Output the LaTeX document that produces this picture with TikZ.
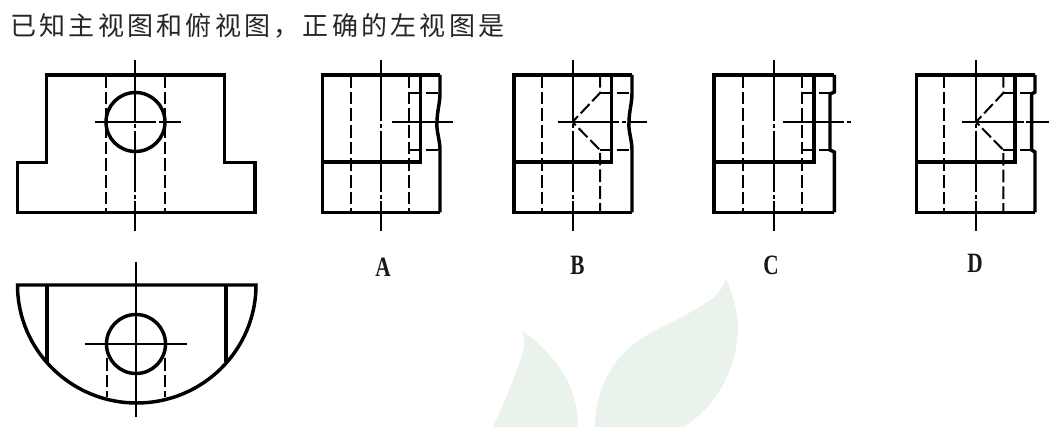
\documentclass[tikz,border=0pt]{standalone}
\usepackage{fontspec}
\setmainfont{Liberation Serif}
\newfontfamily\cjk[LetterSpace=12.5]{Noto Sans CJK SC}
\definecolor{leaf}{HTML}{E9F3EC}
\tikzset{
  thick line/.style={line width=2.6pt,line join=miter,black},
  thin solid/.style={line width=1.5pt,black},
  hidden line/.style={line width=1.5pt,black,dash pattern=on 9.5pt off 3pt},
  axis line/.style={line width=1.5pt,black,dash pattern=on 46pt off 2pt on 3pt off 2pt},
  choice/.style={font=\bfseries\fontsize{21}{21}\selectfont,xscale=.76,text=black!90,inner sep=0pt}
}
% xl xr xi xd1 xd2 xc xh1 xh2
\newcommand{\frameview}[8]{%
  \draw[thick line] (#2,212.5)--(#1,212.5)--(#1,75)--(#2,75);
  \draw[thick line] (#1,162)--(#3,162)--(#3,75);
  \draw[axis line] (#6,60)--(#6,231);
  \draw[axis line] (#7,122)--(#8,122);
  \draw[hidden line] (#4,75)--(#4,212.5);
}
\begin{document}
\begin{tikzpicture}[x=.75pt,y=-.75pt]
\useasboundingbox (0,0) rectangle (1057,427);
% watermark
\fill[leaf] (726,278) .. controls (722,290) and (716,297) .. (706,303)
  .. controls (690,313) and (670,323) .. (653,332)
  .. controls (625,346) and (596,375) .. (595,427) -- (683,427)
  .. controls (715,408) and (738,370) .. (738,325)
  .. controls (737,308) and (731,290) .. (726,278) -- cycle;
\fill[leaf] (522.5,331) .. controls (525,338) and (525,346) .. (522,355)
  .. controls (515,378) and (503,405) .. (493,427) -- (578,427)
  .. controls (578,395) and (565,362) .. (522.5,331) -- cycle;
% title
\node[anchor=west,inner sep=0pt,font=\cjk\fontsize{19.5}{19.5}\selectfont,text=black!85] (title) at (10,26) {已知主视图和俯视图，正确的左视图是};
% front view
\draw[thick line] (46.5,75)--(224.5,75)--(224.5,162.5)--(255,162.5)--(255,212.5)--(17.5,212.5)--(17.5,162.5)--(46.5,162.5)--cycle;
\draw[hidden line] (106,75)--(106,212.5);
\draw[hidden line] (164.5,75)--(164.5,212.5);
\draw[axis line] (135,60)--(135,231);
\draw[axis line] (95,122)--(181,122);
\draw[thick line] (135.5,122) circle (29.5);
% top view
\draw[thick line] (17.5,285)--(256,285) arc[start angle=0,end angle=180,x radius=119.25,y radius=118] -- cycle;
\draw[thick line] (47,285)--(47,362);
\draw[thick line] (226,285)--(226,362);
\draw[hidden line] (106.5,358)--(106.5,397);
\draw[hidden line] (165,358)--(165,397);
\draw[thin solid] (136,262)--(136,417);
\draw[thin solid] (85,344)--(187,344);
\draw[thick line] (136,344) circle (29.5);
% A
\frameview{322.5}{440}{420.7}{350.7}{409}{381}{391.7}{455}
\draw[hidden line] (409,75)--(409,212.5);
\draw[hidden line] (409,93)--(440,93);
\draw[hidden line] (409,150)--(440,150);
\draw[thick line] (440,212.5)--(440,150) .. controls (440,140) and (436,130) .. (437,122) .. controls (437,112) and (440,103) .. (440,93)--(440,75);
% B
\frameview{514}{632}{611.7}{542.3}{600}{572.5}{558}{646.7}
\draw[hidden line] (600,75)--(600,93)--(572.5,122)--(600,150)--(600,212.5);
\draw[hidden line] (600,93)--(632,93);
\draw[hidden line] (600,150)--(632,150);
\draw[thick line] (632,212.5)--(632,150) .. controls (632,140) and (628,130) .. (629,122) .. controls (629,112) and (632,103) .. (632,93)--(632,75);
% C
\frameview{714}{834.3}{814}{743}{802.3}{774}{782.7}{852.7}
\draw[hidden line] (802.3,75)--(802.3,212.5);
\draw[hidden line] (802.3,93)--(830,93);
\draw[hidden line] (802.3,150)--(830,150);
\draw[thick line] (834.3,212.5)--(834.3,152)--(830,150)--(830,94)--(834.3,92)--(834.3,75);
% D
\frameview{916.7}{1035}{1015}{944.3}{1003.3}{976}{962.3}{1049}
\draw[hidden line] (1003.3,75)--(1003.3,93)--(976,122)--(1003.3,150)--(1003.3,212.5);
\draw[hidden line] (1003.3,93)--(1031.7,93);
\draw[hidden line] (1003.3,150)--(1031.7,150);
\draw[thick line] (1035,212.5)--(1035,152)--(1031.7,150)--(1031.7,94)--(1035,92)--(1035,75);
% labels
\node[choice] (la) at (383,267) {A};
\node[choice] (lb) at (577.5,265) {B};
\node[choice] (lc) at (771,265) {C};
\node[choice] (ld) at (975,263.5) {D};
\end{tikzpicture}
\end{document}
